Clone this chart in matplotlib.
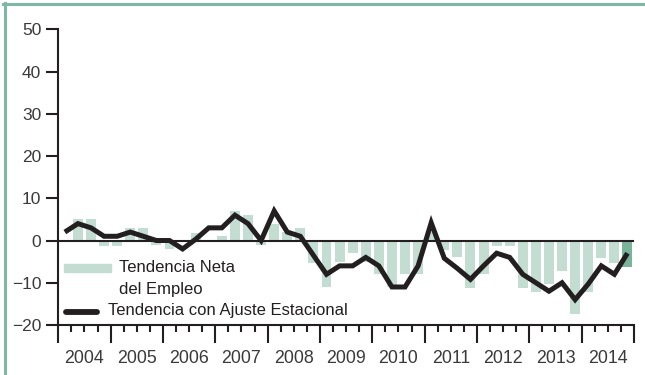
import matplotlib
matplotlib.use("Agg")
import matplotlib.pyplot as plt
from matplotlib.patches import Rectangle
from matplotlib.lines import Line2D
import matplotlib.transforms as mtransforms
import numpy as np

plt.rcParams['font.family'] = ['Liberation Sans', 'DejaVu Sans']

years = list(range(2004, 2015))
year_labels = [str(y) for y in years]

# quarterly net employment outlook (bars) 2004Q1..2014Q4
net_outlook = [0, 5, 5, -1.2,
               -1.2, 3, 3, -1,
               -2, 0, 1.7, 0,
               1, 7, 6, -1.1,
               4, 2, 3, -5.3,
               -11, -5.2, -3, -5,
               -8, -11, -8, -8,
               2, -2.2, -4, -11.2,
               -8, -1.2, -1.2, -11.2,
               -12.2, -10.2, -7.2, -17.3,
               -12.2, -4.1, -5.3, -6.2]

# seasonally adjusted trend (line)
seasonal_adj = [2, 4, 3, 1,
                1, 2, 1, 0,
                0, -2, 0.3, 3,
                3, 6, 4, 0,
                7, 2, 1, -3.5,
                -8, -6, -6, -4,
                -6, -11, -11, -6,
                4.2, -4.2, -6.6, -9.2,
                -6, -3, -4, -8,
                -10, -12, -10, -14,
                -10.3, -6, -8, -3]

legend_bar = "Tendencia Neta\ndel Empleo"
legend_line = "Tendencia con Ajuste Estacional"

W, H = 645, 375
fig = plt.figure(figsize=(W / 100, H / 100), dpi=100)
ax = fig.add_axes([58.3 / W, (H - 325) / H, (634 - 58.3) / W, (325 - 29.3) / H])

x = 2004 + (np.arange(len(net_outlook)) + 0.5) / 4.0
light = '#C3DDD3'
dark = '#79B39B'
colors = [light] * (len(net_outlook) - 1) + [dark]
ax.bar(x, net_outlook, width=0.19, color=colors, zorder=1)
ax.axhline(0, color='#231f20', lw=1.5, zorder=2)
ax.plot(x, seasonal_adj, color='#231f20', lw=3.6, solid_joinstyle='miter',
        solid_capstyle='butt', zorder=3)

ax.set_xlim(2004, 2015)
ax.set_ylim(-20, 50)
for s in ['top', 'right']:
    ax.spines[s].set_visible(False)
for s in ['left', 'bottom']:
    ax.spines[s].set_color('#231f20')
    ax.spines[s].set_linewidth(1.5)

txt_color = '#3a3a3a'
ax.set_yticks([-20, -10, 0, 10, 20, 30, 40, 50])
ax.tick_params(axis='y', length=8.6, width=1.5, pad=3.6, labelsize=12.5,
               labelcolor=txt_color, color='#231f20')
ax.set_xticks(range(2004, 2016))
ax.set_xticklabels([])
ax.set_xticks(np.arange(2004, 2015.01, 0.25), minor=True)
ax.tick_params(axis='x', which='major', length=13, width=1.5, color='#231f20')
ax.tick_params(axis='x', which='minor', length=5, width=1.5, color='#231f20')

trans = mtransforms.blended_transform_factory(ax.transData, ax.transAxes)
for yv, lab in zip(years, year_labels):
    ax.text(yv + 0.5, -0.1125, lab, transform=trans, ha='center', va='center',
            fontsize=12.8, color=txt_color)

# legend (manual)
def fx(px):
    return px / W

def fy(py):
    return (H - py) / H

fig.patches.append(Rectangle((fx(64), fy(272.3)), fx(110.7) - fx(64), fy(264) - fy(272.3),
                             transform=fig.transFigure, color=light, zorder=5))
fig.text(fx(119), fy(267.5), legend_bar.split("\n")[0], ha='left', va='center',
         fontsize=12, color='#231f20')
fig.text(fx(119), fy(289.5), legend_bar.split("\n")[1], ha='left', va='center',
         fontsize=12, color='#231f20')
fig.lines.append(Line2D([fx(66), fx(97)], [fy(311.5), fy(311.5)], transform=fig.transFigure,
                        color='#231f20', lw=4.2, solid_capstyle='round'))
fig.text(fx(108), fy(310.5), legend_line, ha='left', va='center',
         fontsize=12, color='#231f20')

# green frame (left and top)
border = '#7DB8A2'
fig.lines.append(Line2D([fx(4.5), fx(4.5)], [0, fy(3)], transform=fig.transFigure,
                        color=border, lw=2.2))
fig.lines.append(Line2D([fx(3), 1], [fy(4), fy(4)], transform=fig.transFigure,
                        color=border, lw=2.2))

fig.savefig('out.png', dpi=100)
